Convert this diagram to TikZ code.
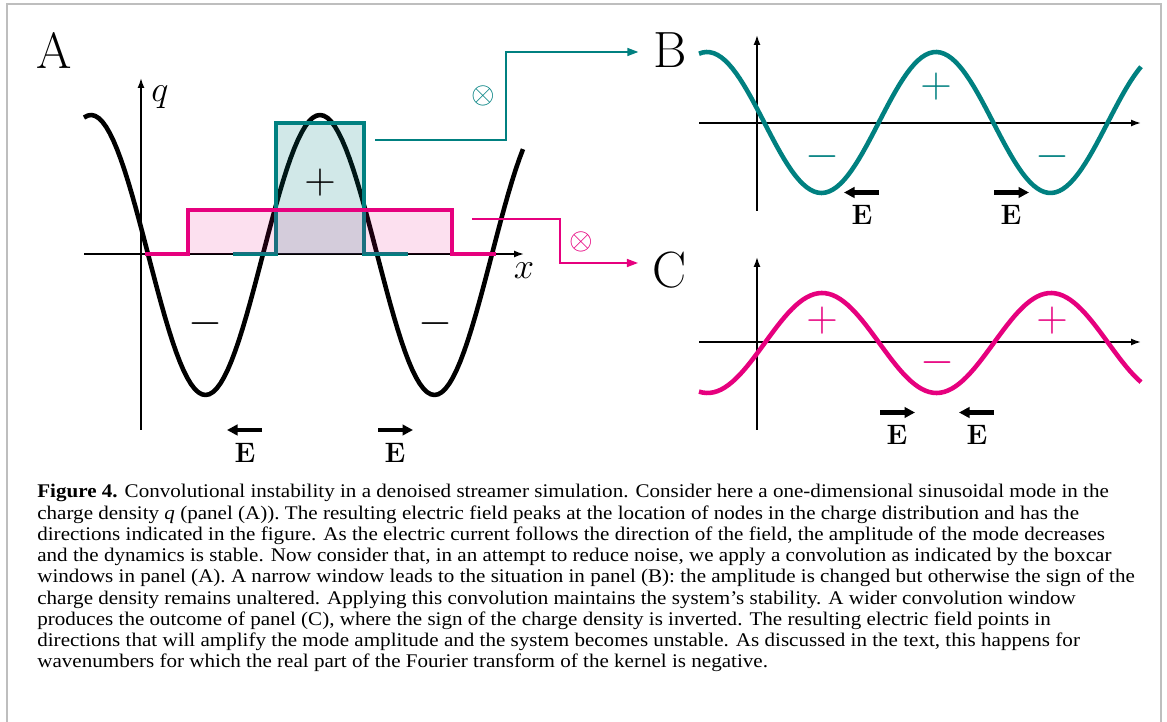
\documentclass[tikz,border=0pt]{standalone}
\usepackage{fontspec}
\newfontfamily\capfont[FakeStretch=1.09]{Liberation Serif}
\usetikzlibrary{arrows.meta, calc}
\definecolor{tealc}{RGB}{0,128,128}
\definecolor{magc}{RGB}{230,0,126}
\definecolor{framec}{RGB}{190,190,190}

\begin{document}
\begin{tikzpicture}[x=0.02cm, y=-0.02cm]
    % Define styles
    \tikzstyle{axis} = [-{Latex[length=2mm, width=1.4mm]}, line width=0.9pt]
    \tikzstyle{wave} = [line width=2.6pt, line join=round]
    \tikzstyle{boxcar} = [line width=2pt]
    \tikzstyle{conn} = [-{Triangle[length=2.2mm, width=1.6mm]}, line width=0.8pt]
    \tikzstyle{earrow} = [-{Triangle[length=2.1mm, width=2.1mm]}, line width=2.3pt]
    \tikzstyle{efield} = [font=\fontsize{16}{16}\selectfont\bfseries, inner sep=0pt]
    \tikzstyle{panel} = [font=\fontsize{29}{29}\selectfont, inner sep=0pt, outer sep=0.3cm]
    \tikzstyle{sign} = [font=\fontsize{23}{23}\selectfont, inner sep=0pt]
    \tikzstyle{var} = [font=\fontsize{20}{20}\selectfont, inner sep=0pt]
    \tikzstyle{conv} = [font=\fontsize{18}{18}\selectfont, inner sep=0pt]
    \tikzstyle{capline} = [anchor=base west, inner sep=0pt, font=\capfont\fontsize{11}{12}\selectfont]

    \useasboundingbox (0,0) rectangle (1167,722);
    \draw[framec, line width=0.8pt] (7,722) -- (7,4) -- (1161,4) -- (1161,722);

    % Panel A
    \node[panel] (labA) at (54,50) {A};
    \draw[axis] (141,430) -- (141,78);
    \draw[axis] (84,254) -- (524,254);
    \node[var] (qlab) at (160,97) {$q$};
    \node[var] (xlab) at (524,271) {$x$};
    \draw[wave] plot[domain=84:523, samples=120] (\x, {255-140*cos((\x-320)/229*360)});

    % Boxcar windows
    \fill[tealc, opacity=0.18] (276,123) rectangle (364,254);
    \draw[tealc, boxcar] (233,254) -- (276,254) -- (276,123) -- (364,123) -- (364,254) -- (408,254);
    \fill[magc, opacity=0.12] (188,210) rectangle (452,254);
    \draw[magc, boxcar] (145,254) -- (188,254) -- (188,210) -- (452,210) -- (452,254) -- (496,254);

    \node[sign] (pA) at (320,183) {$+$};
    \node[sign] (mA1) at (205,324) {$-$};
    \node[sign] (mA2) at (435,324) {$-$};

    \node[efield] (eA1) at (245,453) {E};
    \node[efield] (eA2) at (395,453) {E};
    \draw[earrow] ($(eA1)+(17,-23)$) -- ++(-35,0);
    \draw[earrow] ($(eA2)+(-17,-23)$) -- ++(35,0);

    % Panel B
    \node[panel] (labB) at (670,50) {B};
    \draw[axis] (757,211) -- (757,35);
    \draw[axis] (699,123) -- (1141,123);
    \draw[wave, tealc] plot[domain=699:1141, samples=120] (\x, {122.5-70.5*cos((\x-936)/229*360)});

    \node[sign, tealc] (pB) at (936,87) {$+$};
    \node[sign, tealc] (mB1) at (822,157) {$-$};
    \node[sign, tealc] (mB2) at (1052,157) {$-$};

    \node[efield] (eB1) at (862,215) {E};
    \node[efield] (eB2) at (1011,215) {E};
    \draw[earrow] ($(eB1)+(17,-22.5)$) -- ++(-35,0);
    \draw[earrow] ($(eB2)+(-17,-22.5)$) -- ++(35,0);

    % Panel C
    \node[panel] (labC) at (670,270) {C};
    \draw[axis] (757,430) -- (757,257);
    \draw[axis] (699,342) -- (1141,342);
    \draw[wave, magc] plot[domain=699:1141, samples=120] (\x, {343-50*cos((\x-822)/229*360)});

    \node[sign, magc] (pC1) at (822,321) {$+$};
    \node[sign, magc] (pC2) at (1052,321) {$+$};
    \node[sign, magc] (mC) at (937,363) {$-$};

    \node[efield] (eC1) at (897,435) {E};
    \node[efield] (eC2) at (977,435) {E};
    \draw[earrow] ($(eC1)+(-17,-22.5)$) -- ++(35,0);
    \draw[earrow] ($(eC2)+(17,-22.5)$) -- ++(-35,0);

    % Convolution connectors
    \coordinate (tealout) at (375,140);
    \coordinate (tealbend) at (506,52);
    \draw[conn, tealc] (tealout) -| (tealbend) -- (tealbend -| labB.west);
    \node[conv, tealc] (convB) at (483,96) {$\otimes$};

    \coordinate (magout) at (472,219);
    \coordinate (magbend) at (560,263);
    \draw[conn, magc] (magout) -| (magbend) -- (magbend -| labC.west);
    \node[conv, magc] (convC) at (581,242) {$\otimes$};

    % Caption
    \node[capline] (cap1) at (37,498) {\textbf{Figure 4.} Convolutional instability in a denoised streamer simulation. Consider here a one-dimensional sinusoidal mode in the};
    \node[capline] (cap2) at (37,519.25) {charge density \textit{q} (panel (A)). The resulting electric field peaks at the location of nodes in the charge distribution and has the};
    \node[capline] (cap3) at (37,540.5) {directions indicated in the figure. As the electric current follows the direction of the field, the amplitude of the mode decreases};
    \node[capline] (cap4) at (37,561.75) {and the dynamics is stable. Now consider that, in an attempt to reduce noise, we apply a convolution as indicated by the boxcar};
    \node[capline] (cap5) at (37,583) {windows in panel (A). A narrow window leads to the situation in panel (B): the amplitude is changed but otherwise the sign of the};
    \node[capline] (cap6) at (37,604.25) {charge density remains unaltered. Applying this convolution maintains the system’s stability. A wider convolution window};
    \node[capline] (cap7) at (37,625.5) {produces the outcome of panel (C), where the sign of the charge density is inverted. The resulting electric field points in};
    \node[capline] (cap8) at (37,646.75) {directions that will amplify the mode amplitude and the system becomes unstable. As discussed in the text, this happens for};
    \node[capline] (cap9) at (37,668) {wavenumbers for which the real part of the Fourier transform of the kernel is negative.};
\end{tikzpicture}
\end{document}
